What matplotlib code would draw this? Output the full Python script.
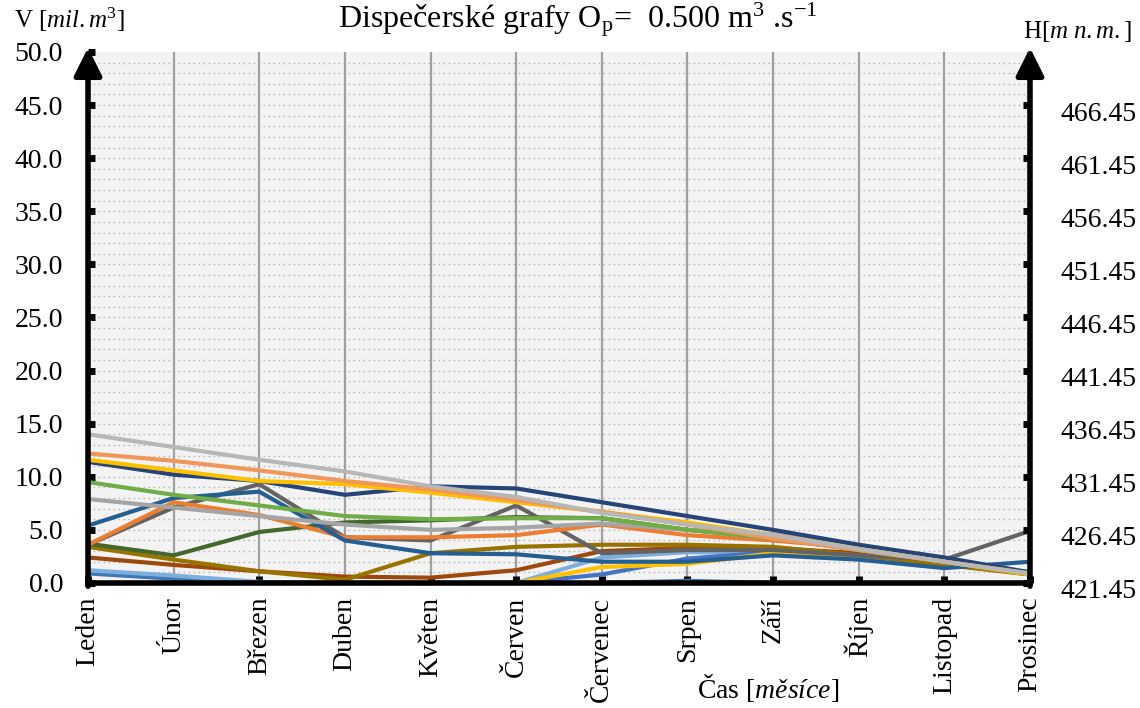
import matplotlib.pyplot as plt
import matplotlib.transforms as mtransforms
import numpy as np

plt.rcParams['font.family'] = ['Liberation Serif', 'DejaVu Serif']
plt.rcParams['mathtext.fontset'] = 'custom'
plt.rcParams['mathtext.rm'] = 'Liberation Serif'
plt.rcParams['mathtext.it'] = 'Liberation Serif:italic'

months = ['Leden', 'Únor', 'Březen', 'Duben', 'Květen', 'Červen',
          'Červenec', 'Srpen', 'Září', 'Říjen', 'Listopad', 'Prosinec']

# objemy [mil. m3] pro jednotlivé dispečerské křivky
v_light_gray = [14.0, 12.8, 11.6, 10.5, 9.1, 8.1, 6.6, 5.5, 4.5, 3.2, 2.0, 0.9]
v_light_orange = [12.2, 11.5, 10.6, 9.6, 8.8, 7.8, 6.7, 5.5, 4.2, 3.1, 2.0, 0.9]
v_gold = [11.6, 10.6, 9.6, 9.3, 8.5, 7.6, 6.7, 5.7, 4.5, 3.2, 2.0, 0.8]
v_dark_blue = [11.4, 10.2, 9.6, 8.3, 9.1, 8.9, 7.6, 6.3, 5.0, 3.6, 2.4, 1.0]
v_green = [9.5, 8.3, 7.3, 6.3, 6.0, 6.1, 6.1, 5.0, 4.2, 3.1, 2.0, 0.8]
v_gray = [7.9, 7.1, 6.3, 5.5, 5.0, 5.2, 5.6, 5.0, 4.6, 3.4, 2.2, 0.9]
v_blue = [5.4, 8.0, 8.6, 4.0, 2.8, 2.7, 2.0, 2.0, 2.6, 2.2, 1.4, 2.0]
v_orange = [3.6, 7.6, 6.4, 4.3, 4.3, 4.5, 5.5, 4.5, 4.0, 3.3, 2.2, 0.9]
v_dark_gray = [3.6, 7.1, 9.3, 4.3, 4.0, 7.3, 2.8, 3.1, 3.1, 2.6, 2.2, 4.9]
v_dark_green = [3.7, 2.6, 4.8, 5.7, 5.9, 6.2, 6.1, 5.0, 4.3, 3.1, 2.0, 1.0]
v_dark_gold = [3.4, 2.2, 1.1, 0.3, 2.8, 3.4, 3.6, 3.6, 3.4, 2.6, 1.7, 0.8]
v_dark_orange = [2.4, 1.7, 1.1, 0.6, 0.5, 1.2, 3.0, 3.3, 3.3, 2.8, 2.0, 0.8]
v_sky_blue = [1.2, 0.7, 0.1, 0.0, 0.0, 0.0, 2.4, 2.9, 2.8, 2.6, 1.9, 0.9]
v_yellow = [0.0, 0.0, 0.0, 0.0, 0.0, 0.0, 1.5, 1.8, 2.8, 2.6, 1.8, 0.8]
v_royal_blue = [0.0, 0.0, 0.0, 0.0, 0.0, 0.0, 0.8, 2.3, 2.9, 2.7, 1.9, 1.0]
v_steel_blue = [0.9, 0.4, 0.0, 0.0, 0.0, 0.0, 0.0, 0.2, 0.0, 0.0, 0.0, 0.0]

series = [
    (v_steel_blue, '#3f79b5'),
    (v_sky_blue, '#7cafdd'),
    (v_royal_blue, '#4472c4'),
    (v_yellow, '#ffc000'),
    (v_dark_orange, '#9e480e'),
    (v_dark_gold, '#997300'),
    (v_dark_green, '#43682b'),
    (v_dark_gray, '#636363'),
    (v_orange, '#ed7d31'),
    (v_blue, '#255e91'),
    (v_gray, '#a5a5a5'),
    (v_green, '#70ad47'),
    (v_dark_blue, '#264478'),
    (v_gold, '#ffc000'),
    (v_light_orange, '#f1975a'),
    (v_light_gray, '#b7b7b7'),
]

v_ticks = np.arange(0, 50.1, 5)
h_base = 421.45

fig = plt.figure(figsize=(11.4, 7.08), dpi=100)
ax = fig.add_axes([0.0772, 0.1766, 0.8263, 0.75])
ax.set_facecolor('#f3f3f3')

x = np.arange(len(months))
for vals, col in series:
    ax.plot(x, vals, color=col, lw=3.0, solid_joinstyle='miter')

ax.set_xlim(0, 11)
ax.set_ylim(0, 50)

# mrizka
for yy in np.arange(1, 50, 1):
    ax.axhline(yy, color='#b8b8b8', lw=1.0, ls=(0, (1.2, 2.4)), zorder=0)
for xx in x[1:-1]:
    ax.axvline(xx, color='#a0a0a0', lw=1.6, zorder=0.5)

for s in ['top', 'right', 'left']:
    ax.spines[s].set_visible(False)
ax.spines['bottom'].set_linewidth(4)

ax.set_xticks(x)
ax.set_xticklabels(months, rotation=90, fontsize=20, va='top')
ax.tick_params(axis='x', direction='in', length=5, width=5, pad=10)

ax.set_yticks(v_ticks)
ax.set_yticklabels(['%.1f' % v for v in v_ticks], fontsize=20)
ax.tick_params(axis='y', direction='in', length=5, width=5, pad=18)

ax2 = ax.twinx()
ax2.set_ylim(0, 50)
ax2.set_yticks(v_ticks[:-1])
ax2.set_yticklabels(['%.2f' % (h_base + v) for v in v_ticks[:-1]], fontsize=20)
ax2.tick_params(axis='y', direction='in', length=5, width=5, pad=22)
for s in ['top', 'right', 'left', 'bottom']:
    ax2.spines[s].set_visible(False)
shift = mtransforms.ScaledTranslation(0, -6 / 100, fig.dpi_scale_trans)
for lab in ax2.get_yticklabels():
    lab.set_transform(lab.get_transform() + shift)

# osy se sipkami
for xa in [0, 1]:
    ax.annotate('', xy=(xa, 1.008), xytext=(xa, -0.006), xycoords='axes fraction',
                arrowprops=dict(arrowstyle='-|>', lw=4, color='black',
                                mutation_scale=42, shrinkA=0, shrinkB=0),
                annotation_clip=False)

fig.text(0.507, 0.972,
         r'Dispečerské grafy O$_\mathregular{p}$=  0.500 m$^\mathregular{3}$ .s$^\mathregular{-1}$',
         ha='center', va='center', fontsize=23)
fig.text(0.012, 0.972, r'V [$\mathit{mil.m}$$^\mathregular{3}$]', ha='left', va='center', fontsize=18)
fig.text(0.993, 0.955, r'H[$\mathit{m\ n.m.}$]', ha='right', va='center', fontsize=18)
fig.text(0.674, 0.028, r'Čas [$\mathit{měsíce}$]', ha='center', va='center', fontsize=20)

fig.savefig('out.png', dpi=100)
